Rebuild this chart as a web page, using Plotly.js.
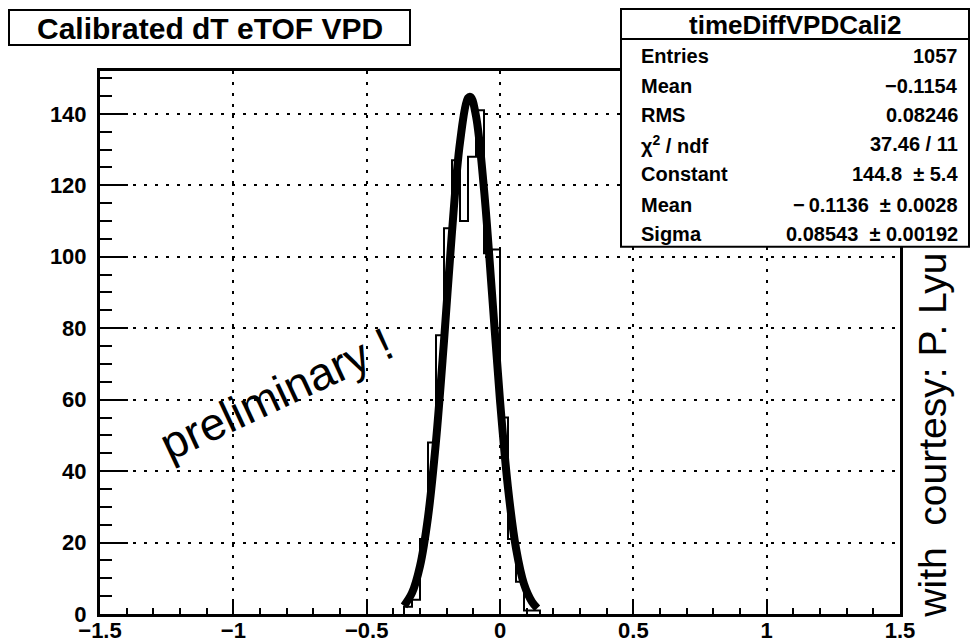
<!DOCTYPE html>
<html>
<head>
<meta charset="utf-8">
<script src="https://cdn.plot.ly/plotly-3.0.1.min.js"></script>
<style>html,body{margin:0;padding:0;background:#fff;}#chart{width:974px;height:642px;}</style>
</head>
<body>
<div id="chart"></div>
<script>
// ---- data ----
const binLowEdges = [-0.36, -0.33, -0.30, -0.27, -0.24, -0.21, -0.18, -0.15, -0.12, -0.09, -0.06, -0.03, 0.00, 0.03, 0.06, 0.09, 0.12];
const binCounts   = [2, 4, 21, 48, 78, 108, 127, 110, 128, 141, 101, 102, 55, 21, 9, 1, 1];
const binWidth = 0.03;

// Gaussian fit curve
const fitX = [-0.36, -0.33, -0.30, -0.27, -0.24, -0.21, -0.18, -0.15, -0.12, -0.11, -0.09, -0.06, -0.03, 0.00, 0.03, 0.06, 0.09, 0.12, 0.14];
const fitY = [2.3, 5.9, 13.4, 27.1, 48.4, 76.4, 107, 132, 144.4, 144.7, 139.4, 118.9, 89.8, 59.8, 35.3, 18.4, 8.4, 3.4, 1.6];

const xTickVals = [-1.5, -1, -0.5, 0, 0.5, 1, 1.5];
const xTickText = ['\u22121.5', '\u22121', '\u22120.5', '0', '0.5', '1', '1.5'];
const yTickVals = [0, 20, 40, 60, 80, 100, 120, 140];

const titleText = 'Calibrated dT eTOF VPD';
const statsName = 'timeDiffVPDCali2';
const statsLabels = ['Entries', 'Mean', 'RMS', '\u03c7<sup>2</sup> / ndf', 'Constant', 'Mean', 'Sigma'];
const statsValues = ['1057', '\u22120.1154', '0.08246', '37.46 / 11',
                     '144.8\u00a0\u00a0\u00b1\u00a05.4', '\u2212\u20090.1136\u00a0\u00a0\u00b1\u00a00.0028', '0.08543\u00a0\u00a0\u00b1\u00a00.00192'];
const watermark = 'preliminary !';
const courtesy = 'with\u00a0\u00a0courtesy: P. Lyu';

// ---- build step outline from bins ----
const stepX = [binLowEdges[0]];
const stepY = [0];
for (let i = 0; i < binLowEdges.length; i++) { stepX.push(binLowEdges[i]); stepY.push(binCounts[i]); }
stepX.push(binLowEdges[binLowEdges.length - 1] + binWidth); stepY.push(0);

// ---- geometry helpers (pixel -> paper) ----
const W = 974, H = 642;
const L = 100, R = 900, T = 71, B = 614.5;
const fx = px => (px - L) / (R - L);
const fy = py => (B - py) / (B - T);

const FONT = 'Liberation Sans, Arial, Helvetica, sans-serif';

const traces = [
  { x: stepX, y: stepY, type: 'scatter', mode: 'lines',
    line: { shape: 'hv', color: '#000', width: 2 }, hoverinfo: 'skip', showlegend: false },
  { x: fitX, y: fitY, type: 'scatter', mode: 'lines',
    line: { shape: 'spline', smoothing: 1, color: '#000', width: 8 }, hoverinfo: 'skip', showlegend: false }
];

const sbL = 621, sbR = 969, sbT = 9, sbB = 247, sbHead = 39;
const rowY = [56, 86, 115, 144.5, 174, 205, 234];

const shapes = [
  // title box
  { type: 'rect', xref: 'paper', yref: 'paper', x0: fx(9), x1: fx(410), y0: fy(45), y1: fy(10),
    line: { color: '#000', width: 2 }, fillcolor: '#fff', layer: 'above' },
  // stats box
  { type: 'rect', xref: 'paper', yref: 'paper', x0: fx(sbL), x1: fx(sbR), y0: fy(sbB), y1: fy(sbT),
    line: { color: '#000', width: 2 }, fillcolor: '#fff', layer: 'above' },
  { type: 'line', xref: 'paper', yref: 'paper', x0: fx(sbL), x1: fx(sbR), y0: fy(sbHead), y1: fy(sbHead),
    line: { color: '#000', width: 2 }, layer: 'above' }
];

const annotations = [
  { text: titleText, xref: 'paper', yref: 'paper', x: fx(210), y: fy(28), xanchor: 'center', yanchor: 'middle',
    showarrow: false, font: { family: FONT, size: 30, color: '#000', weight: 'bold' } },
  { text: statsName, xref: 'paper', yref: 'paper', x: fx((sbL + sbR) / 2), y: fy(25), xanchor: 'center', yanchor: 'middle',
    showarrow: false, font: { family: FONT, size: 26, color: '#000', weight: 'bold' } },
  { text: watermark, xref: 'paper', yref: 'paper', x: fx(276), y: fy(394), xanchor: 'center', yanchor: 'middle',
    textangle: -25, showarrow: false, font: { family: FONT, size: 46, color: '#000' } },
  { text: courtesy, xref: 'paper', yref: 'paper', x: fx(933), y: fy(436), xanchor: 'center', yanchor: 'middle',
    textangle: -90, showarrow: false, font: { family: FONT, size: 39, color: '#000' } }
];
for (let i = 0; i < statsLabels.length; i++) {
  annotations.push({ text: statsLabels[i], xref: 'paper', yref: 'paper', x: fx(639), y: fy(rowY[i]),
    xanchor: 'left', yanchor: 'middle', showarrow: false,
    font: { family: FONT, size: 20, color: '#000', weight: 'bold' } });
  annotations.push({ text: statsValues[i], xref: 'paper', yref: 'paper', x: fx(960), y: fy(rowY[i]),
    xanchor: 'right', yanchor: 'middle', showarrow: false,
    font: { family: FONT, size: 20, color: '#000', weight: 'bold' } });
}

const layout = {
  width: W, height: H,
  margin: { l: L, r: W - R, t: T, b: H - B, pad: 0 },
  paper_bgcolor: '#fff', plot_bgcolor: '#fff',
  showlegend: false,
  xaxis: {
    range: [-1.5, 1.5], tickmode: 'array', tickvals: xTickVals, ticktext: xTickText,
    ticks: 'inside', ticklen: 13, tickwidth: 2, tickcolor: '#000',
    minor: { dtick: 0.1, tick0: -1.5, ticks: 'inside', ticklen: 6, tickwidth: 2, tickcolor: '#000', showgrid: false },
    showgrid: true, gridcolor: '#000', gridwidth: 2, griddash: '3px,8px',
    showline: true, linecolor: '#000', linewidth: 3, mirror: true, zeroline: false,
    tickfont: { family: FONT, size: 22, color: '#000', weight: 'bold' }, ticklabelstandoff: -5
  },
  yaxis: {
    range: [0, 152], tickmode: 'array', tickvals: yTickVals,
    ticks: 'inside', ticklen: 28, tickwidth: 2, tickcolor: '#000',
    minor: { dtick: 5, tick0: 0, ticks: 'inside', ticklen: 12, tickwidth: 2, tickcolor: '#000', showgrid: false },
    showgrid: true, gridcolor: '#000', gridwidth: 2, griddash: '3px,8px',
    showline: true, linecolor: '#000', linewidth: 3, mirror: true, zeroline: false,
    tickfont: { family: FONT, size: 22, color: '#000', weight: 'bold' }, ticklabelstandoff: 6
  },
  shapes: shapes,
  annotations: annotations
};

Plotly.newPlot('chart', traces, layout, { staticPlot: true, displayModeBar: false });
</script>
</body>
</html>
